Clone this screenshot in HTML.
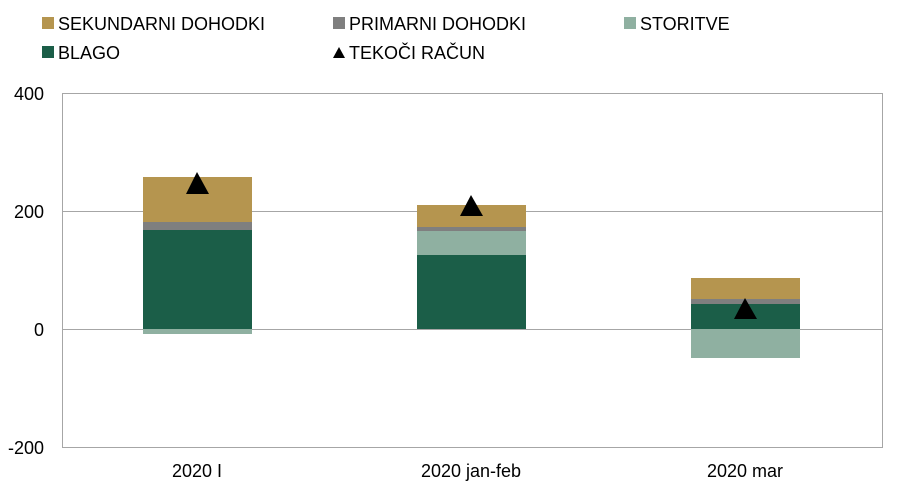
<!DOCTYPE html>
<html><head><meta charset="utf-8"><style>
body{margin:0;background:#fff;}
svg text{font-family:"Liberation Sans",Arial,sans-serif;font-size:18px;fill:#000;}
</style></head><body>
<svg width="900" height="490" xmlns="http://www.w3.org/2000/svg">
<rect width="900" height="490" fill="#fff"/>
<!-- legend -->
<rect x="42" y="17" width="12" height="12" fill="#b5954f"/><text x="58" y="30">SEKUNDARNI DOHODKI</text>
<rect x="42" y="46" width="12" height="12" fill="#1b5e48"/><text x="58" y="59">BLAGO</text>
<rect x="333" y="17" width="12" height="12" fill="#7f7f7f"/><text x="349" y="30">PRIMARNI DOHODKI</text>
<polygon points="339,47 345,58 333,58" fill="#000"/><text x="349" y="59">TEKOČI RAČUN</text>
<rect x="624" y="17" width="12" height="12" fill="#8fb0a1"/><text x="640" y="30">STORITVE</text>
<!-- grid -->
<g stroke="#a6a6a6" stroke-width="1">
<line x1="62" y1="93.5" x2="883" y2="93.5"/>
<line x1="62" y1="211.5" x2="883" y2="211.5"/>
<line x1="62" y1="329.5" x2="883" y2="329.5"/>
<line x1="62" y1="447.5" x2="883" y2="447.5"/>
<line x1="62.5" y1="93" x2="62.5" y2="447"/>
<line x1="882.5" y1="93" x2="882.5" y2="447"/>
</g>
<g text-anchor="end">
<text x="44" y="100">400</text><text x="44" y="218">200</text><text x="44" y="336">0</text><text x="44" y="454">-200</text>
</g>
<!-- bar1 -->
<rect x="143" y="329" width="109" height="5" fill="#8fb0a1"/>
<rect x="143" y="230" width="109" height="99" fill="#1b5e48"/>
<rect x="143" y="222" width="109" height="8" fill="#7f7f7f"/>
<rect x="143" y="177" width="109" height="45" fill="#b5954f"/>
<polygon points="197,172 209,194 186,194" fill="#000"/>
<!-- bar2 -->
<rect x="417" y="255" width="109" height="74" fill="#1b5e48"/>
<rect x="417" y="231" width="109" height="24" fill="#8fb0a1"/>
<rect x="417" y="227" width="109" height="4" fill="#7f7f7f"/>
<rect x="417" y="205" width="109" height="22" fill="#b5954f"/>
<polygon points="471,195 483,216 460,216" fill="#000"/>
<!-- bar3 -->
<rect x="691" y="329" width="109" height="29" fill="#8fb0a1"/>
<rect x="691" y="304" width="109" height="25" fill="#1b5e48"/>
<rect x="691" y="299" width="109" height="5" fill="#7f7f7f"/>
<rect x="691" y="278" width="109" height="21" fill="#b5954f"/>
<polygon points="745,298 757,319 734,319" fill="#000"/>
<g text-anchor="middle">
<text x="197" y="477">2020 I</text><text x="471" y="477">2020 jan-feb</text><text x="745" y="477">2020 mar</text>
</g>
</svg>
</body></html>
